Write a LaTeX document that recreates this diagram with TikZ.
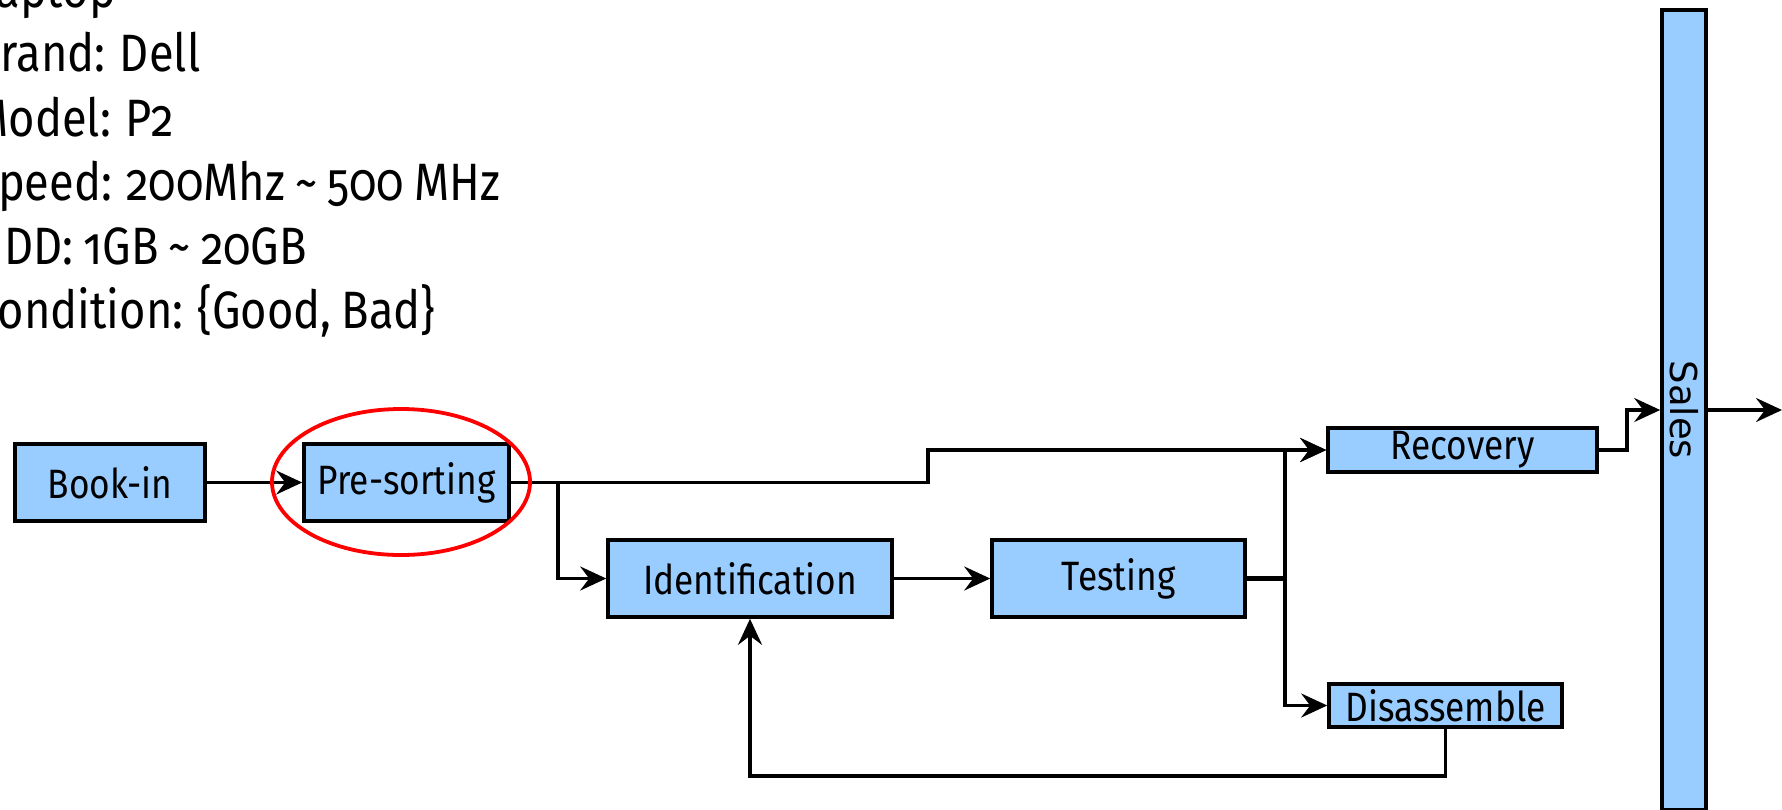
\documentclass[tikz,border=0pt]{standalone}
\usepackage{fontspec}
\setmainfont{Fira Sans}[Numbers=OldStyle,FakeStretch=0.86]
\newfontfamily\specsfont{Fira Sans}[Numbers=OldStyle,FakeStretch=0.86,WordSpace=0.85]
\newfontfamily\salesfont{DejaVu Sans}
\usetikzlibrary{arrows.meta}
\definecolor{boxblue}{RGB}{153,204,255}

\begin{document}
\begin{tikzpicture}[x=0.5pt,y=-0.5pt,
    stage/.style={draw=black,fill=boxblue,line width=1.8pt,inner sep=0pt,
        font=\fontsize{20.5}{24}\selectfont},
    flow/.style={line width=1.7pt,-{Stealth[length=13pt,width=12pt,inset=4.5pt]}}]
    \useasboundingbox (0,0) rectangle (1782,809);
    \clip (0,0) rectangle (1782,809);
    % item description, cut off at the left
    \node[anchor=north west,align=left,inner sep=0pt,
        font=\specsfont\fontsize{26.3}{32.1}\selectfont] (specs) at (-27,-29)
        {Laptop\\Brand: Dell\\Model: P2\\Speed: 200Mhz \textasciitilde{} 500 MHz\\
         HDD: 1GB \textasciitilde{} 20GB\\Condition: \{Good, Bad\}};
    % process stages
    \node[stage,minimum width=95pt,minimum height=38.5pt] (bookin) at (110,482.5) {Book-in};
    \node[stage,minimum width=102.5pt,minimum height=38.5pt] (presort) at (406.5,482.5) {Pre-sorting};
    \node[stage,minimum width=142pt,minimum height=38.5pt] (ident) at (750,578.5) {Identification};
    \node[stage,minimum width=126.5pt,minimum height=38.5pt] (testing) at (1118.5,578.5) {Testing};
    \node[stage,minimum width=134.5pt,minimum height=22pt] (recovery) at (1462.5,450) {Recovery};
    \node[stage,minimum width=116.5pt,minimum height=21.5pt] (disass) at (1445.5,705.5) {Disassemble};
    \node[stage,minimum width=22pt,minimum height=400pt,
        font=\salesfont\fontsize{18.5}{20}\selectfont] (sales) at (1684,410) {\rotatebox{-90}{Sales}};
    \coordinate (split1) at (558,482.5);
    \coordinate (jog) at (928,482.5);
    \coordinate (split2) at (1285,578.5);
    \coordinate (loop) at (1100,776);
    \coordinate (split3) at (1627,450);
    \coordinate (out) at (1782,410);
    % connectors
    \draw[flow] (bookin) -- (presort);
    \draw[flow] (presort.east) -- (split1) |- (ident.west);
    \draw[flow] (split1) -- (jog) |- (recovery.west);
    \draw[flow] (ident) -- (testing);
    \draw[line width=2.6pt] (testing.east) -- (split2);
    \draw[flow] (split2) |- (recovery.west);
    \draw[flow] (split2) |- (disass.west);
    \draw[flow] (disass.south) |- (loop) -| (ident.south);
    \draw[flow] (recovery.east) -- (split3) |- (sales.west);
    \draw[flow] (sales.east) -- (out);
    % highlight
    \draw[red,line width=1.9pt] (401,482) ellipse [x radius=64.5pt,y radius=36.5pt];
\end{tikzpicture}
\end{document}
